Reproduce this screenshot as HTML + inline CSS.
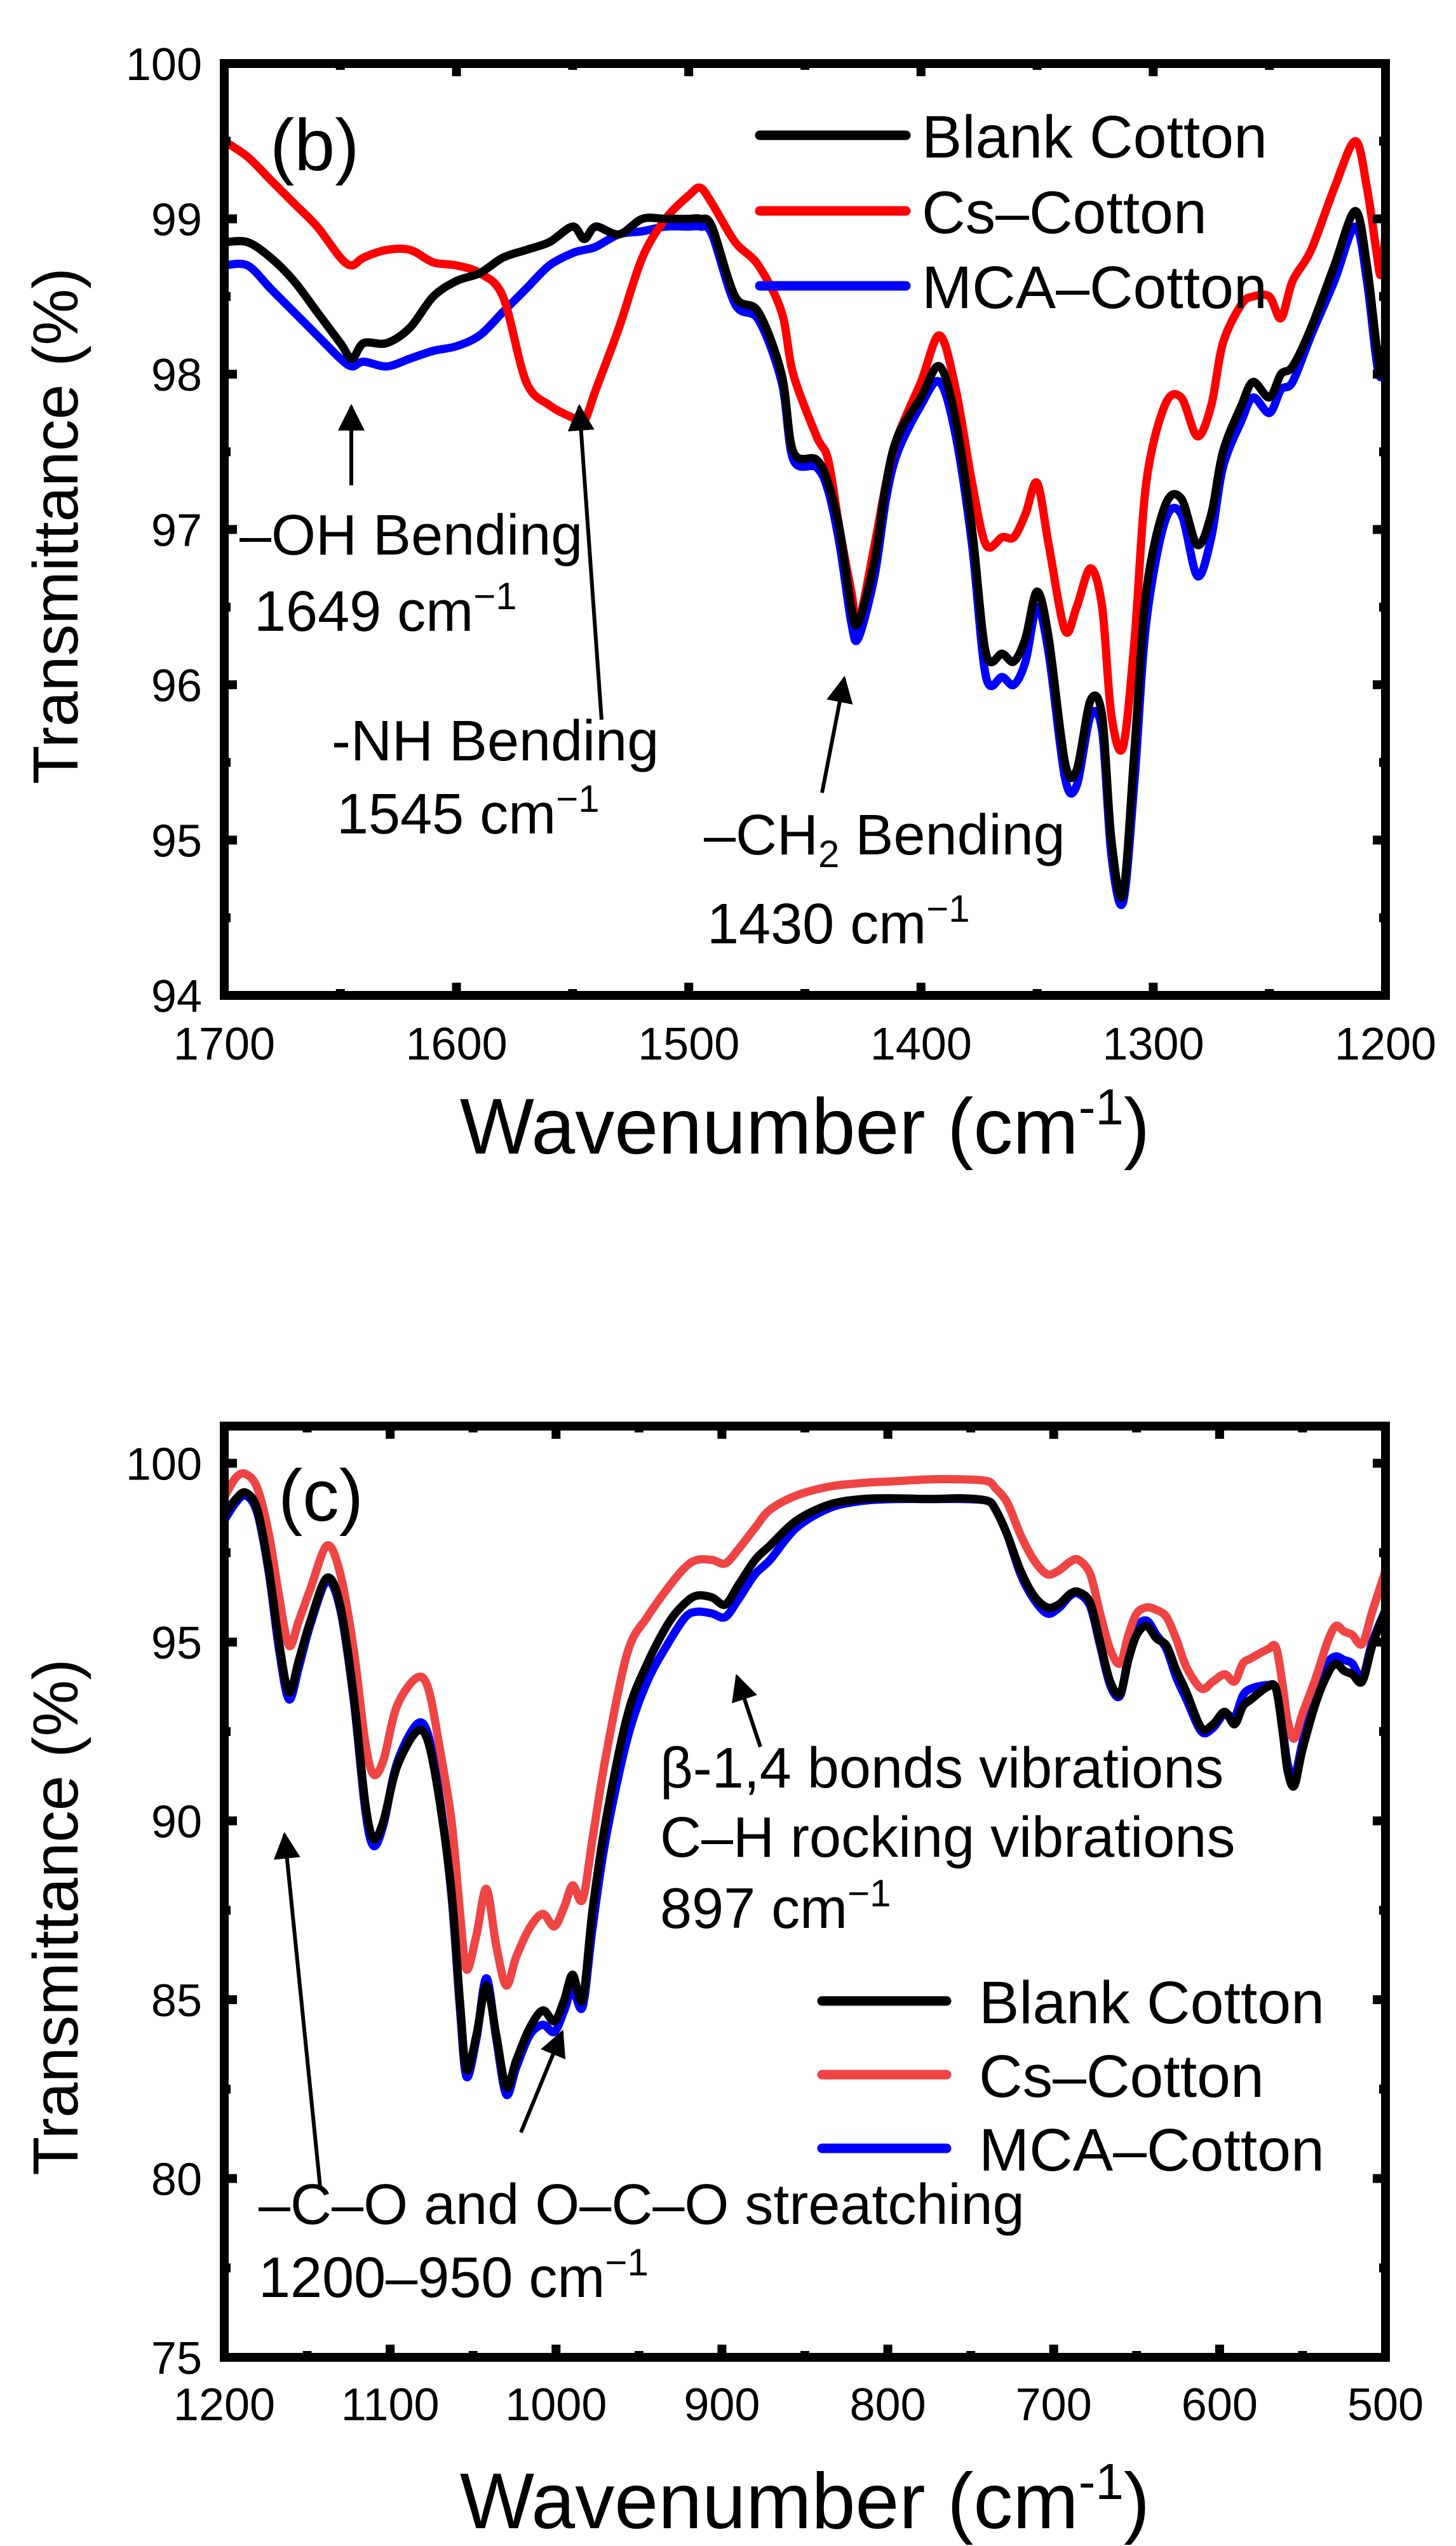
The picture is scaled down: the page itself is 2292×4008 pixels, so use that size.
<!DOCTYPE html>
<html><head><meta charset="utf-8"><style>
html,body{margin:0;padding:0;background:#fff;}
svg{display:block;font-family:"Liberation Sans",Arial,sans-serif;}
</style></head><body>
<svg id="fig" width="2292" height="4008" viewBox="0 0 2292 4008" xmlns="http://www.w3.org/2000/svg">
<defs>
<clipPath id="clipT"><rect x="353" y="100" width="1828" height="1467"/></clipPath>
<clipPath id="clipB"><rect x="353" y="2245" width="1828" height="1466"/></clipPath>
</defs>
<g id="gtop"></g>
<g id="gbot"></g>
</svg>
<script>
// ---- Panel (b) data ----
const wnT = [1700,1690,1680,1670,1660,1650,1645,1640,1630,1620,1610,1600,1590,1580,1570,1560,1550,1545,1540,1530,1520,1510,1500,1495,1490,1480,1470,1460,1455,1445,1440,1435,1430,1427,1420,1415,1410,1400,1392,1385,1378,1372,1365,1360,1355,1350,1345,1338,1333,1327,1322,1318,1313,1308,1303,1295,1288,1281,1275,1270,1262,1257,1250,1245,1240,1232,1222,1213,1208,1204,1202,1200];
const blankT = [98.85,98.85,98.75,98.6,98.4,98.2,98.1,98.2,98.2,98.3,98.5,98.6,98.65,98.75,98.8,98.85,98.95,98.87,98.95,98.9,99.0,99.0,99.0,99.0,98.95,98.5,98.4,98.0,97.5,97.45,97.3,97.0,96.5,96.4,96.8,97.3,97.6,97.85,98.05,97.7,97.0,96.2,96.2,96.15,96.3,96.6,96.3,95.5,95.45,95.9,95.8,95.0,94.65,95.6,96.6,97.15,97.2,96.9,97.1,97.5,97.8,97.95,97.85,98.0,98.05,98.3,98.7,99.05,98.7,98.2,98.02,98.2];
const csT = [99.5,99.4,99.25,99.1,98.95,98.75,98.7,98.75,98.8,98.8,98.72,98.7,98.65,98.5,97.95,97.8,97.72,97.7,97.9,98.3,98.75,99.0,99.15,99.2,99.1,98.85,98.7,98.4,98.0,97.6,97.45,97.0,96.6,96.4,96.9,97.3,97.6,97.95,98.25,97.9,97.3,96.9,96.95,96.95,97.1,97.3,96.9,96.35,96.5,96.75,96.5,95.8,95.6,96.3,97.3,97.8,97.85,97.6,97.8,98.2,98.45,98.5,98.5,98.36,98.6,98.8,99.2,99.5,99.2,98.8,98.64,98.9];
const mcaT = [98.7,98.7,98.55,98.4,98.25,98.1,98.05,98.08,98.05,98.1,98.15,98.18,98.25,98.4,98.55,98.7,98.78,98.8,98.82,98.9,98.92,98.95,98.95,98.95,98.9,98.45,98.35,97.95,97.45,97.4,97.25,96.9,96.4,96.3,96.7,97.2,97.5,97.8,97.95,97.6,96.9,96.05,96.05,96.0,96.15,96.5,96.2,95.4,95.35,95.8,95.7,94.9,94.6,95.4,96.4,97.05,97.1,96.7,96.95,97.4,97.7,97.85,97.75,97.9,97.95,98.25,98.6,98.95,98.6,98.1,97.98,98.1];
const xTicksT = [1700,1600,1500,1400,1300,1200];
const yTicksT = [94,95,96,97,98,99,100];

// ---- Panel (c) data ----
const wnB = [1200,1193,1187,1180,1173,1167,1161,1155,1148,1138,1130,1122,1115,1110,1104,1096,1084,1077,1070,1063,1058,1054,1048,1042,1036,1030,1024,1016,1008,1001,995,990,984,978,970,957,945,932,922,915,906,898,890,880,871,855,835,815,795,775,755,740,735,728,720,712,704,697,690,685,678,672,666,660,655,650,644,638,632,626,620,611,604,597,591,586,581,571,566,562,559,555,550,542,535,530,525,520,514,508,500];
const blankB = [98.55,99.0,99.18,98.7,97.0,95.0,93.6,94.5,95.6,96.8,96.0,93.5,90.5,89.5,90.0,91.5,92.5,92.2,90.5,88.0,85.0,83.05,84.0,85.4,84.0,82.55,83.3,84.2,84.7,84.4,85.0,85.7,85.0,87.5,90.0,92.95,94.4,95.55,96.1,96.3,96.25,96.05,96.6,97.3,97.7,98.4,98.85,99.0,99.02,99.0,99.02,98.95,98.7,98.0,97.0,96.3,95.97,96.05,96.35,96.4,96.1,95.0,93.9,93.55,94.5,95.2,95.45,95.1,94.9,94.2,93.6,92.6,92.7,93.05,92.7,93.2,93.4,93.75,93.7,92.5,91.4,90.98,92.0,93.3,94.1,94.4,94.2,94.1,93.9,94.9,95.9];
const csB = [99.05,99.6,99.7,99.3,98.0,96.3,94.9,95.6,96.5,97.7,96.9,94.8,92.2,91.3,91.7,93.2,94.0,93.7,92.0,90.0,87.5,85.85,86.8,88.1,86.5,85.4,86.2,87.0,87.4,87.05,87.6,88.2,87.8,89.5,91.8,94.7,95.7,96.55,97.1,97.3,97.3,97.2,97.6,98.2,98.7,99.1,99.35,99.45,99.5,99.55,99.55,99.5,99.3,98.9,98.0,97.3,96.9,97.0,97.25,97.3,96.9,95.8,94.8,94.4,95.2,95.8,95.97,95.9,95.7,95.07,94.3,93.7,93.9,94.1,93.9,94.4,94.55,94.8,94.85,93.8,92.8,92.3,93.0,94.0,95.0,95.45,95.3,95.2,94.95,95.85,97.0];
const mcaB = [98.4,98.9,99.1,98.6,96.9,94.8,93.4,94.3,95.5,96.7,95.9,93.4,90.3,89.3,89.9,91.6,92.7,92.4,90.6,87.9,84.8,82.85,83.9,85.6,83.9,82.35,83.1,84.0,84.3,84.1,84.7,85.3,84.8,87.0,89.5,92.3,93.9,95.0,95.7,95.85,95.8,95.7,96.2,96.9,97.3,98.2,98.75,98.95,99.0,99.0,99.0,98.95,98.7,98.0,96.9,96.2,95.8,95.95,96.3,96.35,96.0,94.9,93.8,93.5,94.6,95.4,95.6,95.2,94.8,94.0,93.4,92.5,92.6,93.0,92.9,93.5,93.7,93.8,93.7,92.6,91.6,91.2,92.2,93.6,94.4,94.6,94.5,94.4,94.0,95.0,95.9];
const xTicksB = [1200,1100,1000,900,800,700,600,500];
const yTicksB = [75,80,85,90,95,100];

const NS = "http://www.w3.org/2000/svg";
function mk(parent, tag, attrs){ const e=document.createElementNS(NS,tag); for(const k in attrs) e.setAttribute(k,attrs[k]); parent.appendChild(e); return e; }
function smoothPath(pts){
  let d = "M"+pts[0][0].toFixed(1)+","+pts[0][1].toFixed(1);
  for(let i=0;i<pts.length-1;i++){
    const p0=pts[Math.max(0,i-1)], p1=pts[i], p2=pts[i+1], p3=pts[Math.min(pts.length-1,i+2)];
    const t=0.16;
    const c1=[p1[0]+(p2[0]-p0[0])*t, p1[1]+(p2[1]-p0[1])*t];
    const c2=[p2[0]-(p3[0]-p1[0])*t, p2[1]-(p3[1]-p1[1])*t];
    d+=" C"+c1[0].toFixed(1)+","+c1[1].toFixed(1)+" "+c2[0].toFixed(1)+","+c2[1].toFixed(1)+" "+p2[0].toFixed(1)+","+p2[1].toFixed(1);
  }
  return d;
}

function panel(g, cfg){
  const X = v => cfg.L + (cfg.x0 - v)/(cfg.x0 - cfg.x1)*(cfg.R-cfg.L);
  const Y = v => cfg.B - (v - cfg.y0)/(cfg.y1 - cfg.y0)*(cfg.B-cfg.T);
  cfg.series.forEach(s=>{
    const n=Math.min(cfg.wn.length, s.vals.length);
    const pts=[]; for(let i=0;i<n;i++) pts.push([X(cfg.wn[i]), Y(s.vals[i])]);
    const p=mk(g,"path",{d:smoothPath(pts),fill:"none",stroke:s.color,"stroke-width":13,"stroke-linejoin":"round","stroke-linecap":"round","clip-path":"url(#"+cfg.clip+")"});
    
    
  });
  const fr=mk(g,"rect",{x:cfg.L,y:cfg.T,width:cfg.R-cfg.L,height:cfg.B-cfg.T,fill:"none",stroke:"#000","stroke-width":14});
  
  
  cfg.xt.forEach(v=>{
    const x=X(v);
    mk(g,"line",{x1:x,y1:cfg.B,x2:x,y2:cfg.B-20,stroke:"#000","stroke-width":14});
    mk(g,"line",{x1:x,y1:cfg.T,x2:x,y2:cfg.T+20,stroke:"#000","stroke-width":14});
    const t=mk(g,"text",{x:x,y:cfg.xlabY,"font-size":72,"text-anchor":"middle"}); t.textContent=v;
    
    
  });
  for(let i=0;i<cfg.xt.length-1;i++){
    const x=X((cfg.xt[i]+cfg.xt[i+1])/2);
    mk(g,"line",{x1:x,y1:cfg.B,x2:x,y2:cfg.B-10,stroke:"#000","stroke-width":14});
    mk(g,"line",{x1:x,y1:cfg.T,x2:x,y2:cfg.T+10,stroke:"#000","stroke-width":14});
  }
  cfg.yt.forEach(v=>{
    const y=Y(v);
    mk(g,"line",{x1:cfg.L,y1:y,x2:cfg.L+20,y2:y,stroke:"#000","stroke-width":14});
    mk(g,"line",{x1:cfg.R,y1:y,x2:cfg.R-20,y2:y,stroke:"#000","stroke-width":14});
    const t=mk(g,"text",{x:318,y:y+26,"font-size":72,"text-anchor":"end"}); t.textContent=v;
    
    
  });
  const step=cfg.yt[1]-cfg.yt[0];
  for(let v=cfg.yt[0]+step/2; v<cfg.y1; v+=step){
    const y=Y(v);
    mk(g,"line",{x1:cfg.L,y1:y,x2:cfg.L+10,y2:y,stroke:"#000","stroke-width":14});
    mk(g,"line",{x1:cfg.R,y1:y,x2:cfg.R-10,y2:y,stroke:"#000","stroke-width":14});
  }
}

const gTop=document.getElementById('gtop'), gBot=document.getElementById('gbot');
panel(gTop,{L:353,R:2181,T:100,B:1567,x0:1700,x1:1200,y0:94,y1:100,wn:wnT,xt:xTicksT,yt:yTicksT,xlabY:1668,clip:"clipT",
  series:[{name:"mca-cotton-line",color:"#0000ff",vals:mcaT},{name:"cs-cotton-line",color:"#ff0000",vals:csT},{name:"blank-cotton-line",color:"#000000",vals:blankT}]});
panel(gBot,{L:353,R:2181,T:2245,B:3711,x0:1200,x1:500,y0:75,y1:101.04,wn:wnB,xt:xTicksB,yt:yTicksB,xlabY:3810,clip:"clipB",
  series:[{name:"mca-cotton-line",color:"#0000ff",vals:mcaB},{name:"cs-cotton-line",color:"#ef4444",vals:csB},{name:"blank-cotton-line",color:"#000000",vals:blankB}]});
</script>
<svg style="position:absolute;left:0;top:0" width="2292" height="4008" xmlns="http://www.w3.org/2000/svg" font-family="Liberation Sans, Arial, sans-serif">
<defs><marker id="ah2" viewBox="0 0 10 10" refX="9" refY="5" markerWidth="7" markerHeight="7" orient="auto"><path d="M0,0 L10,5 L0,10 z" fill="#000"/></marker></defs>
<text x="425" y="268" font-size="115">(b)</text>
<g>
<line x1="1196" y1="213" x2="1426" y2="213" stroke="#000" stroke-width="15" stroke-linecap="round"/>
<text x="1451" y="248" font-size="95">Blank Cotton</text>
<line x1="1196" y1="332" x2="1426" y2="332" stroke="#ff0000" stroke-width="15" stroke-linecap="round"/>
<text x="1451" y="367" font-size="95">Cs–Cotton</text>
<line x1="1196" y1="450" x2="1426" y2="450" stroke="#0000ff" stroke-width="15" stroke-linecap="round"/>
<text x="1451" y="485" font-size="95">MCA–Cotton</text>
</g>
<text x="377" y="873" font-size="90">–OH Bending</text>
<text x="400" y="993" font-size="90">1649 cm<tspan font-size="60" dy="-34">−1</tspan></text>
<text x="522" y="1197" font-size="90">-NH Bending</text>
<text x="530" y="1312" font-size="90">1545 cm<tspan font-size="60" dy="-34">−1</tspan></text>
<text x="1108" y="1345" font-size="90">–CH<tspan font-size="60" dy="20">2</tspan><tspan dy="-20"> Bending</tspan></text>
<text x="1113" y="1485" font-size="90">1430 cm<tspan font-size="60" dy="-34">−1</tspan></text>
<line x1="553" y1="764" x2="553" y2="640" stroke="#000" stroke-width="6" marker-end="url(#ah2)"/>
<line x1="947" y1="1133" x2="912" y2="640" stroke="#000" stroke-width="6" marker-end="url(#ah2)"/>
<line x1="1294" y1="1248" x2="1329" y2="1068" stroke="#000" stroke-width="6" marker-end="url(#ah2)"/>
<text x="1267" y="1816" font-size="124" text-anchor="middle">Wavenumber (cm<tspan font-size="80" dy="-46">-1</tspan><tspan dy="46">)</tspan></text>
<text transform="translate(122,828) rotate(-90)" font-size="100" text-anchor="middle">Transmittance (%)</text>
<text x="438" y="2394" font-size="115">(c)</text>
<text x="1039" y="2814" font-size="90">β-1,4 bonds vibrations</text>
<text x="1039" y="2923" font-size="90">C–H rocking vibrations</text>
<text x="1039" y="3035" font-size="90">897 cm<tspan font-size="60" dy="-34">−1</tspan></text>
<line x1="1197" y1="2750" x2="1160" y2="2639" stroke="#000" stroke-width="6" marker-end="url(#ah2)"/>
<g>
<line x1="1294" y1="3150" x2="1490" y2="3150" stroke="#000" stroke-width="15" stroke-linecap="round"/>
<text x="1541" y="3185" font-size="95">Blank Cotton</text>
<line x1="1294" y1="3266" x2="1490" y2="3266" stroke="#ef4444" stroke-width="15" stroke-linecap="round"/>
<text x="1541" y="3301" font-size="95">Cs–Cotton</text>
<line x1="1294" y1="3382" x2="1490" y2="3382" stroke="#0000ff" stroke-width="15" stroke-linecap="round"/>
<text x="1541" y="3417" font-size="95">MCA–Cotton</text>
</g>
<text x="407" y="3501" font-size="90">–C–O and O–C–O streatching</text>
<text x="407" y="3616" font-size="90">1200–950 cm<tspan font-size="60" dy="-34">−1</tspan></text>
<line x1="504" y1="3443" x2="448" y2="2888" stroke="#000" stroke-width="6" marker-end="url(#ah2)"/>
<line x1="820" y1="3357" x2="885" y2="3199" stroke="#000" stroke-width="6" marker-end="url(#ah2)"/>
<text x="1267" y="3980" font-size="124" text-anchor="middle">Wavenumber (cm<tspan font-size="80" dy="-46">-1</tspan><tspan dy="46">)</tspan></text>
<text transform="translate(122,3018) rotate(-90)" font-size="100" text-anchor="middle">Transmittance (%)</text>
</svg>
</body></html>
